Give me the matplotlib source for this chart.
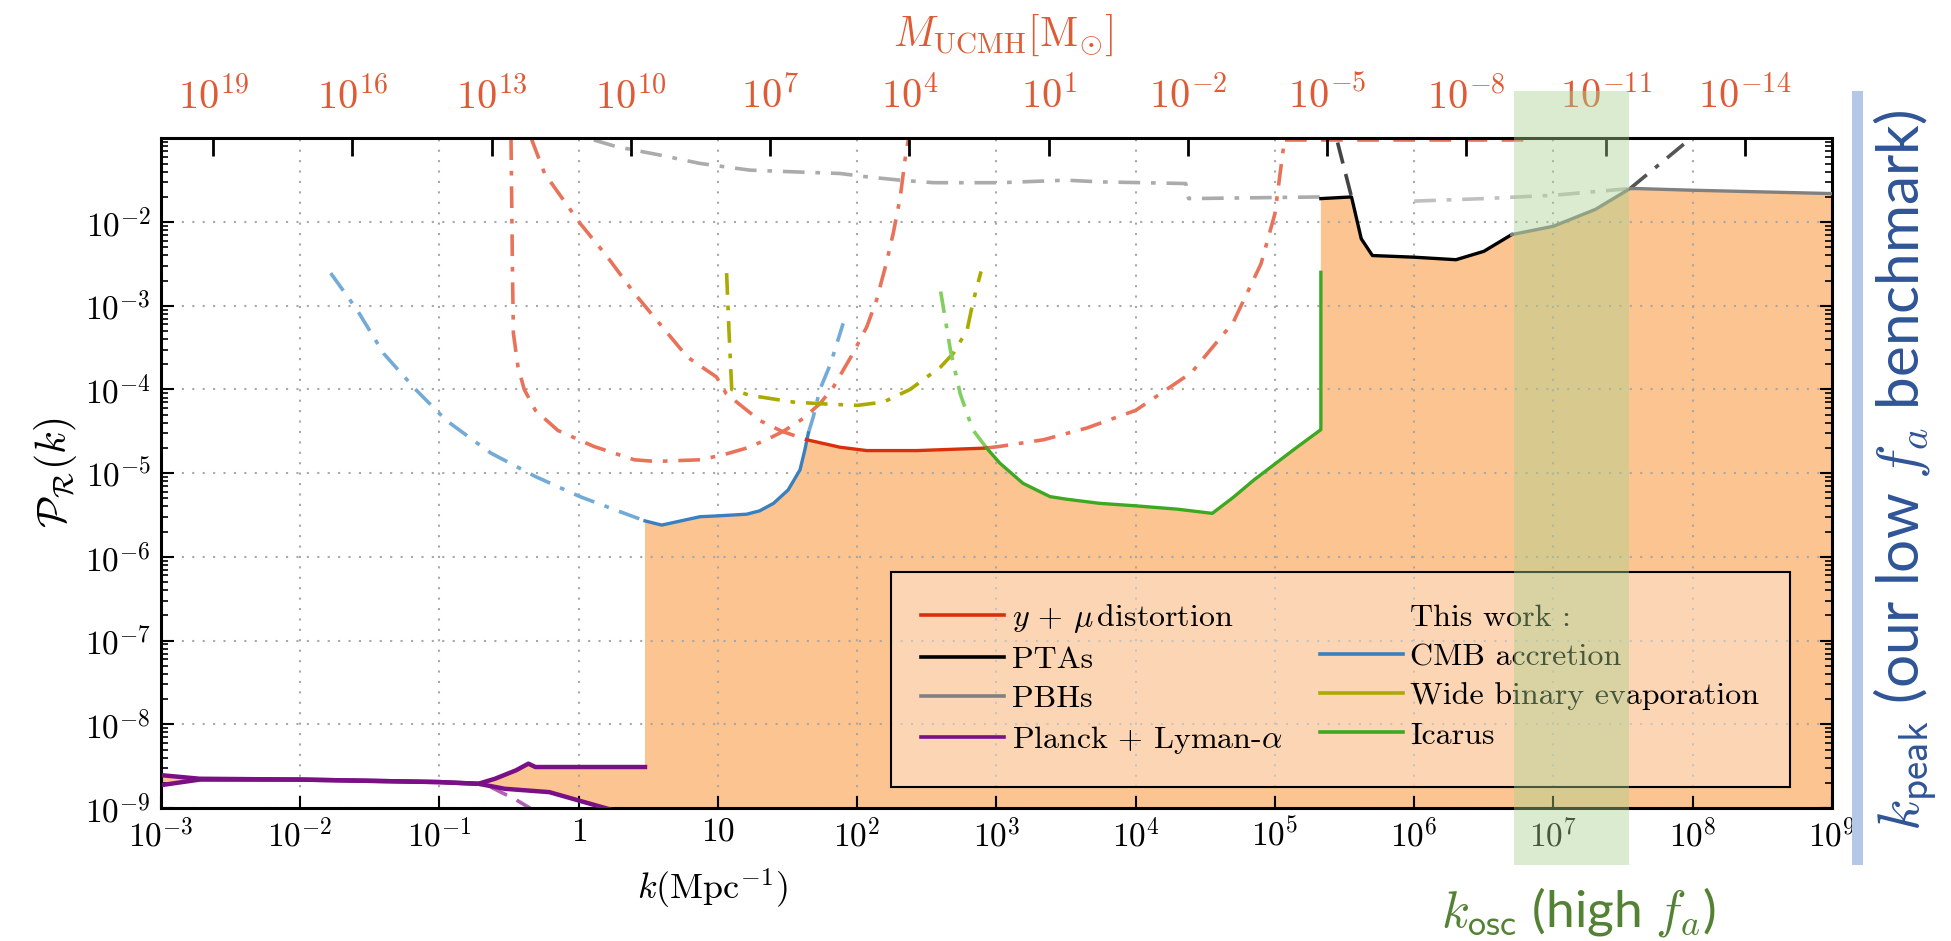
import numpy as np
import matplotlib.pyplot as plt
from matplotlib.lines import Line2D
from matplotlib.patches import Rectangle
import matplotlib.transforms as mtransforms

plt.rcParams['font.family'] = 'serif'
plt.rcParams['font.serif'] = ['cmr10']
plt.rcParams['mathtext.fontset'] = 'cm'
plt.rcParams['axes.unicode_minus'] = False
plt.rcParams['axes.formatter.use_mathtext'] = True

# valeurs, en log10(k) et log10(P)
planck_up_lk = [-3.0, -2.72, -2.0, -1.0, -0.72, -0.6, -0.45, -0.36, -0.31, 0.0, 0.477]
planck_up_lp = [-8.607, -8.65, -8.66, -8.69, -8.71, -8.65, -8.55, -8.47, -8.51, -8.51, -8.51]
planck_lo_lk = [-3.0, -2.72, -2.0, -1.0, -0.72, -0.53, -0.21, 0.17, 0.3]
planck_lo_lp = [-8.727, -8.66, -8.66, -8.69, -8.71, -8.77, -8.81, -8.99, -9.05]
planck_dash_lk = [-0.63, -0.45, -0.33]
planck_dash_lp = [-8.75, -8.90, -9.02]

cmb_lk = [0.477, 0.597, 0.872, 1.0, 1.207, 1.30, 1.40, 1.505, 1.59, 1.625, 1.65]
cmb_lp = [-5.57, -5.62, -5.52, -5.51, -5.49, -5.45, -5.36, -5.20, -4.96, -4.72, -4.52]
cmb_left_lk = [-1.78, -1.59, -1.40, -1.17, -0.95, -0.63, -0.31, 0.01, 0.33, 0.477]
cmb_left_lp = [-2.61, -3.05, -3.57, -4.0, -4.37, -4.76, -5.04, -5.28, -5.48, -5.57]
cmb_right_lk = [1.65, 1.685, 1.733, 1.81, 1.90]
cmb_right_lp = [-4.52, -4.33, -4.0, -3.69, -3.21]

ymu_lk = [1.637, 1.877, 2.07, 2.43, 2.93]
ymu_lp = [-4.60, -4.69, -4.73, -4.73, -4.70]
ymu_left_lk = [-0.34, -0.244, 0.013, 0.204, 0.40, 0.62, 0.78, 0.848, 0.99, 1.06, 1.18, 1.30, 1.46, 1.637]
ymu_left_lp = [-1.0, -1.42, -2.02, -2.41, -2.85, -3.29, -3.61, -3.69, -3.85, -4.05, -4.21, -4.37, -4.50, -4.60]
ymu_right_lk = [2.93, 3.025, 3.34, 3.65, 4.0, 4.4, 4.7, 4.9, 5.0, 5.07]
ymu_right_lp = [-4.70, -4.68, -4.60, -4.46, -4.25, -3.8, -3.2, -2.5, -1.9, -1.0]
other_red_lk = [-0.485, -0.475, -0.468, -0.435, -0.39, -0.31, -0.148, 0.109, 0.40, 0.556, 0.704, 0.872,
                1.04, 1.207, 1.35, 1.47, 1.61, 1.733, 1.83, 1.97, 2.07, 2.14, 2.21, 2.26, 2.31, 2.35, 2.37]
other_red_lp = [-1.0, -2.53, -3.33, -3.73, -4.0, -4.25, -4.49, -4.68, -4.84, -4.86, -4.85, -4.84,
                -4.78, -4.70, -4.60, -4.50, -4.35, -4.17, -3.97, -3.57, -3.25, -2.93, -2.49, -2.13, -1.70, -1.18, -1.0]
red_top_lk = [5.07, 6.85]
red_top_lp = [-1.02, -1.02]

wide_lk = [1.063, 1.08, 1.10, 1.23, 1.54, 1.733, 2.0, 2.19, 2.38, 2.60, 2.69, 2.79, 2.83, 2.89]
wide_lp = [-2.61, -3.3, -4.0, -4.07, -4.15, -4.17, -4.19, -4.15, -4.0, -3.73, -3.57, -3.29, -2.97, -2.59]

icarus_lk = [2.93, 3.025, 3.19, 3.385, 3.50, 3.74, 4.0, 4.3, 4.55, 4.7, 4.85, 5.0, 5.15, 5.33, 5.33]
icarus_lp = [-4.70, -4.88, -5.12, -5.28, -5.31, -5.36, -5.39, -5.43, -5.48, -5.29, -5.08, -4.89, -4.70, -4.48, -2.6]
icarus_dash_lk = [2.60, 2.67, 2.74, 2.83, 2.93]
icarus_dash_lp = [-2.83, -3.53, -4.05, -4.48, -4.70]

pta_lk = [5.33, 5.55, 5.62, 5.7, 6.0, 6.3, 6.5, 6.7]
pta_lp = [-1.72, -1.70, -2.2, -2.4, -2.42, -2.45, -2.35, -2.15]
pta_dash_lk = [5.45, 5.55]
pta_dash_lp = [-1.05, -1.70]

pbh_lk = [6.7, 7.0, 7.3, 7.55, 7.6, 8.0, 8.5, 9.0]
pbh_lp = [-2.15, -2.05, -1.85, -1.60, -1.60, -1.62, -1.64, -1.66]
pbh_dash_lk = [0.11, 0.273, 0.585, 0.872, 1.23, 1.54, 1.877, 2.07, 2.31, 2.55, 3.025, 3.50, 3.74, 4.36, 4.38, 5.33]
pbh_dash_lp = [-1.02, -1.10, -1.20, -1.30, -1.38, -1.40, -1.42, -1.46, -1.50, -1.53, -1.53, -1.50, -1.52,
               -1.54, -1.72, -1.70]
pbh_dash2_lk = [6.0, 6.5, 7.0, 7.55]
pbh_dash2_lp = [-1.75, -1.72, -1.68, -1.60]
pbh_dash3_lk = [7.55, 7.95]
pbh_dash3_lp = [-1.60, -1.05]

k_osc = [10**6.715, 10**7.54]

x_ticks = list(range(-3, 10))
x_labels = ['$10^{-3}$', '$10^{-2}$', '$10^{-1}$', '$1$', '$10$'] + ['$10^{%d}$' % i for i in range(2, 10)]
y_ticks = list(range(-9, -1))
m_ticks = [19, 16, 13, 10, 7, 4, 1, -2, -5, -8, -11, -14]

c_red = '#d9300c'
c_red_l = '#e8735a'
c_blue = '#3a7fbf'
c_blue_l = '#74aad6'
c_olive = '#aaaa00'
c_green = '#3da822'
c_green_l = '#80cf5f'
c_purple = '#7a0f86'
c_gray = '#808080'
c_gray_l = '#ababab'
c_orange_txt = '#df5b35'
dd = (0, (6, 3, 1.3, 3))


def p(lk, lp):
    return 10 ** np.array(lk), 10 ** np.array(lp)


def m_to_k(m):
    # M_UCMH ~ k^-3
    return (np.asarray(m, dtype=float) / 10 ** 11.125) ** (-1.0 / 3.0)


fig = plt.figure(figsize=(19.51, 9.41), dpi=100)
ax = fig.add_axes([0.0824, 0.1413, 0.8566, 0.7117])
ax.set_xscale('log')
ax.set_yscale('log')

# zone exclue
env_lk = np.concatenate([planck_up_lk, cmb_lk[:-1], ymu_lk, icarus_lk[1:-1], [5.33], pta_lk, pbh_lk[1:],
                         [9.0, 0.3], planck_lo_lk[::-1]])
env_lp = np.concatenate([planck_up_lp, cmb_lp[:-1], ymu_lp, icarus_lp[1:-1], [-1.72], pta_lp, pbh_lp[1:],
                         [-9.3, -9.3], planck_lo_lp[::-1]])
ax.fill(*p(env_lk, env_lp), color='#fbba7e', alpha=0.85, lw=0, zorder=1)

ax.plot(*p(cmb_left_lk, cmb_left_lp), color=c_blue_l, lw=2.6, ls=dd, zorder=2)
ax.plot(*p(cmb_right_lk, cmb_right_lp), color=c_blue_l, lw=2.6, ls=dd, zorder=2)
ax.plot(*p(ymu_left_lk, ymu_left_lp), color=c_red_l, lw=2.6, ls=dd, zorder=2)
ax.plot(*p(ymu_right_lk, ymu_right_lp), color=c_red_l, lw=2.6, ls=dd, zorder=2)
ax.plot(*p(other_red_lk, other_red_lp), color=c_red_l, lw=2.6, ls=dd, zorder=2)
ax.plot(*p(red_top_lk, red_top_lp), color=c_red_l, lw=2.6, ls=(0, (6, 4)), zorder=2)
ax.plot(*p(wide_lk, wide_lp), color=c_olive, lw=2.6, ls=dd, zorder=2)
ax.plot(*p(icarus_dash_lk, icarus_dash_lp), color=c_green_l, lw=2.6, ls=dd, zorder=2)
ax.plot(*p(pbh_dash_lk, pbh_dash_lp), color=c_gray_l, lw=2.6, ls=dd, zorder=2)
ax.plot(*p(pbh_dash2_lk, pbh_dash2_lp), color='#c0c0c0', lw=2.6, ls=dd, zorder=2)
ax.plot(*p(pbh_dash3_lk, pbh_dash3_lp), color='#555555', lw=2.6, ls=dd, zorder=2)
ax.plot(*p(pta_dash_lk, pta_dash_lp), color='#444444', lw=2.6, ls=(0, (6, 3)), zorder=2)
ax.plot(*p(planck_dash_lk, planck_dash_lp), color='#b060b8', lw=2.6, ls=(0, (5, 3)), zorder=2)

ax.plot(*p(cmb_lk, cmb_lp), color=c_blue, lw=2.4, zorder=3)
ax.plot(*p(ymu_lk, ymu_lp), color=c_red, lw=2.4, zorder=3)
ax.plot(*p(icarus_lk, icarus_lp), color=c_green, lw=2.4, zorder=3)
ax.plot(*p(pta_lk, pta_lp), color='black', lw=2.4, zorder=3)
ax.plot(*p(pbh_lk, pbh_lp), color=c_gray, lw=2.4, zorder=3)
ax.plot(*p(planck_up_lk, planck_up_lp), color=c_purple, lw=3.2, zorder=3)
ax.plot(*p(planck_lo_lk, planck_lo_lp), color=c_purple, lw=3.2, zorder=3)

ax.set_xlim(1e-3, 1e9)
ax.set_ylim(1e-9, 1e-1)
ax.set_xticks([10.0 ** i for i in x_ticks], x_labels)
ax.set_yticks([10.0 ** i for i in y_ticks], ['$10^{%d}$' % i for i in y_ticks])
ax.tick_params(which='both', direction='in', top=False, right=True, labelsize=24)
ax.tick_params(axis='x', which='major', length=9, width=1.5, pad=7)
ax.tick_params(axis='y', which='major', length=9, width=1.5, pad=7)
ax.tick_params(which='minor', length=5, width=1.2)
ax.grid(True, which='major', color='#a8a8a8', ls=(0, (1, 4)), lw=1.5, zorder=0)
for s in ax.spines.values():
    s.set_linewidth(2.2)

# axe du haut : masse UCMH
ax2 = ax.twiny()
ax2.set_xscale('log')
ax2.set_xlim(ax.get_xlim())
ax2.set_xticks(m_to_k([10.0 ** i for i in m_ticks]), ['$10^{%d}$' % i for i in m_ticks])
ax2.xaxis.set_minor_locator(plt.NullLocator())
ax2.tick_params(direction='in', length=13, width=2.0, labelsize=29, labelcolor=c_orange_txt, pad=16)

handles = [Line2D([], [], color=c_red, lw=2.6), Line2D([], [], color='black', lw=2.6),
           Line2D([], [], color=c_gray, lw=2.6), Line2D([], [], color=c_purple, lw=2.6),
           Line2D([], [], alpha=0), Line2D([], [], color=c_blue, lw=2.6),
           Line2D([], [], color=c_olive, lw=2.6), Line2D([], [], color=c_green, lw=2.6)]
labels = [r'$y\,+\,\mu\,$distortion', 'PTAs', 'PBHs', r'Planck + Lyman-$\alpha$',
          'This work :', 'CMB accretion', 'Wide binary evaporation', 'Icarus']
leg = ax.legend(handles, labels, ncol=2, loc='lower left', bbox_to_anchor=(0.437, 0.032),
                borderaxespad=0, fontsize=23, handlelength=2.6, handletextpad=0.22,
                columnspacing=1.2, labelspacing=0.34, borderpad=0.95, fancybox=False)
fr = leg.get_frame()
fr.set_alpha(None)
fr.set_facecolor((1, 1, 1, 0.32))
fr.set_edgecolor('black')
fr.set_linewidth(1.5)
leg.set_zorder(5)

ax.set_ylabel(r'$\mathcal{P}_{\mathcal{R}}(k)$', fontsize=30)
fig.text(0.365, 0.055, r'$k(\mathrm{Mpc}^{-1})$', fontsize=26, ha='center', va='center')
fig.text(0.514, 0.963, r'$M_{\mathrm{UCMH}}[\mathrm{M}_{\odot}]$', fontsize=30, ha='center', va='center',
         color=c_orange_txt)

# bandes d'annotation
trans = mtransforms.blended_transform_factory(ax.transData, fig.transFigure)
band = Rectangle((k_osc[0], 1 - 865 / 941), k_osc[1] - k_osc[0], (865 - 91) / 941, transform=trans,
                 facecolor='#a9d18e', alpha=0.42, lw=0, clip_on=False, zorder=10)
fig.add_artist(band)
fig.add_artist(Rectangle((1852 / 1951, 1 - 865 / 941), 11 / 1951, (865 - 91) / 941,
                         transform=fig.transFigure, facecolor='#b4c7e7', lw=0, zorder=10))

fig.text(1906 / 1951, 1 - 471 / 941, r'$k_{\mathsf{peak}}$ (our low $f_a$ benchmark)', rotation=90,
         fontsize=42, family='Lato', color='#2f5597', ha='center', va='center')
fig.text(0.809, 0.031, r'$k_{\mathsf{osc}}$ (high $f_a$)', fontsize=37, family='Lato', color='#548235',
         ha='center', va='center')

fig.savefig('out.png', dpi=100)
